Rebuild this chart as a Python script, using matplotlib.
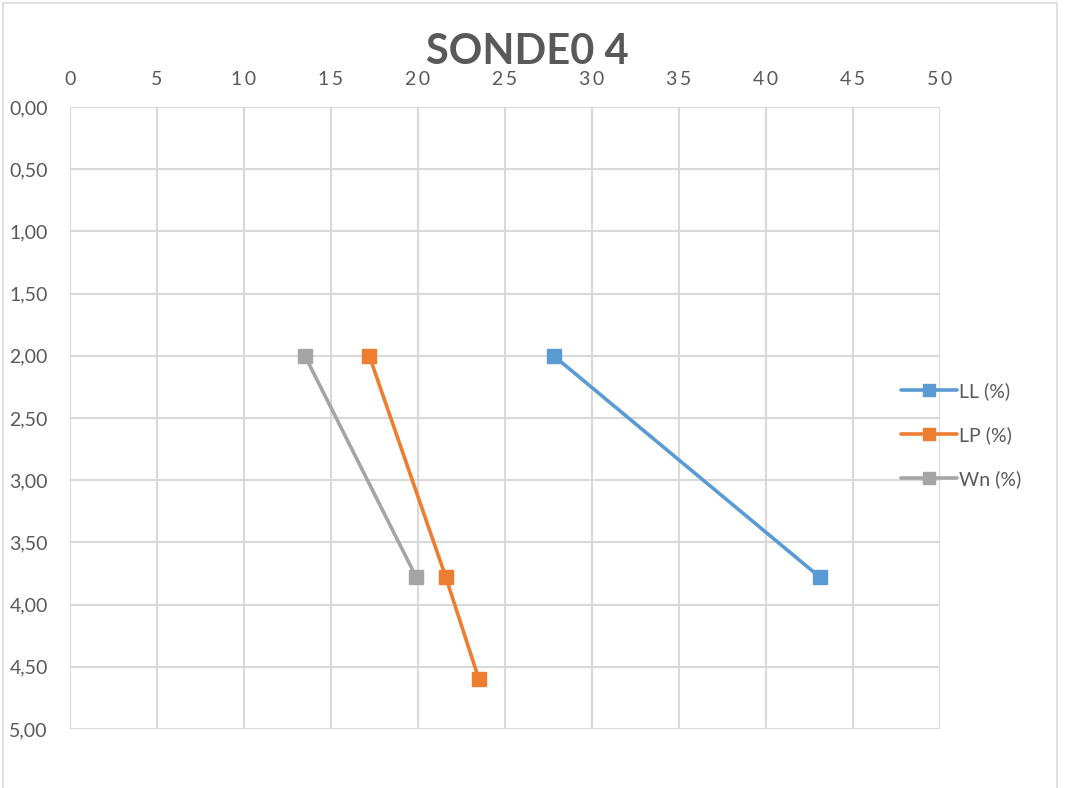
import matplotlib
matplotlib.use("Agg")
import matplotlib.pyplot as plt
from matplotlib.patches import Rectangle
from matplotlib.ticker import FuncFormatter

# values
ll_x = [27.8, 43.1]
ll_depth = [2.0, 3.78]
lp_x = [17.2, 21.6, 23.5]
lp_depth = [2.0, 3.78, 4.6]
wn_x = [13.5, 19.9]
wn_depth = [2.0, 3.78]

series = [
    ("LL (%)", ll_x, ll_depth, "#5B9BD5"),
    ("LP (%)", lp_x, lp_depth, "#ED7D31"),
    ("Wn (%)", wn_x, wn_depth, "#A5A5A5"),
]

x_ticks = list(range(0, 51, 5))
y_ticks = [0, 0.5, 1, 1.5, 2, 2.5, 3, 3.5, 4, 4.5, 5]

plt.rcParams["font.family"] = ["Lato", "DejaVu Sans"]
text_color = "#595959"
grid_color = "#d9d9d9"

W, H = 1073, 788
fig = plt.figure(figsize=(W / 100, H / 100), dpi=100)
ax = fig.add_axes([70 / W, (H - 729) / H, 870 / W, 622 / H])

for label, xs, ys, color in series:
    ax.plot(xs, ys, color=color, lw=2.6, marker="s", ms=10,
            solid_capstyle="round", label=label)

ax.set_xlim(0, 50)
ax.set_ylim(5, 0)
ax.set_xticks(x_ticks)
# x labels in the original are letter-spaced
ax.xaxis.set_major_formatter(FuncFormatter(lambda v, p: "\u2009".join(f"{v:.0f}")))
ax.set_yticks(y_ticks)
ax.yaxis.set_major_formatter(FuncFormatter(lambda v, p: f"{v:.2f}".replace(".", ",")))
ax.xaxis.tick_top()
ax.tick_params(axis="both", length=0, colors=text_color, labelsize=14)
ax.tick_params(axis="x", pad=14)
ax.tick_params(axis="y", pad=16)
ax.grid(True, color=grid_color, lw=1.5)
ax.set_axisbelow(True)
for s in ax.spines.values():
    s.set_visible(False)

fig.text(527 / W, 1 - 52 / H, "SONDE0 4", ha="center", va="center",
         fontsize=30, fontweight="bold", color=text_color)

leg = ax.legend(loc="center left", bbox_to_anchor=(883 / W, 1 - 435 / H),
                bbox_transform=fig.transFigure, frameon=False,
                fontsize=14, labelcolor=text_color, handlelength=2.9,
                handletextpad=0.1, labelspacing=1.35, markerscale=0.9)

fig.patches.append(Rectangle((3 / W, -0.01), 1054 / W, 1.0 - 3 / H + 0.01,
                             transform=fig.transFigure, fill=False,
                             edgecolor="#d9d9d9", lw=1.2))

fig.savefig("out.png", dpi=100)
